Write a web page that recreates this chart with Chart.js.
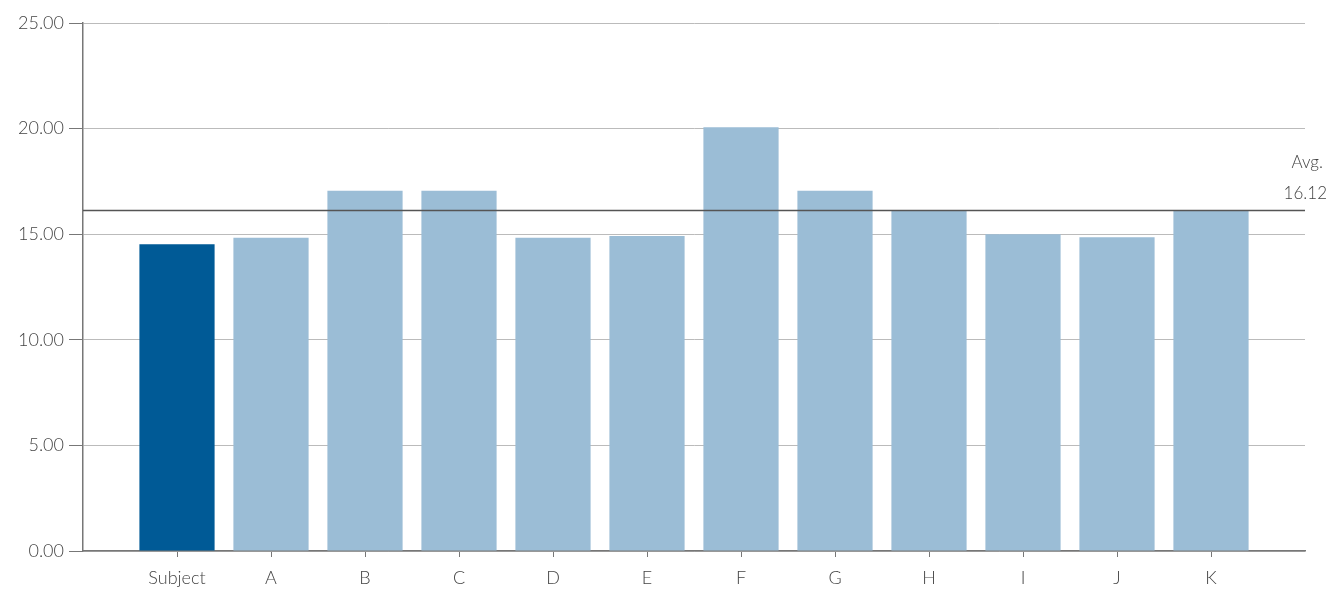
<!DOCTYPE html>
<html>
<head>
<meta charset="utf-8">
<script src="https://cdn.jsdelivr.net/npm/chart.js@4"></script>
<style>
    html, body { margin: 0; padding: 0; background: #fff; }
    #wrap { width: 1343px; height: 596px; }
</style>
</head>
<body>
<div id="wrap"><canvas id="myChart"></canvas></div>

<script>
    // data
    var categories = ['Subject', 'A', 'B', 'C', 'D', 'E', 'F', 'G', 'H', 'I', 'J', 'K'];
    var values = [14.52, 14.83, 17.06, 17.06, 14.83, 14.91, 20.06, 17.06, 16.15, 15.0, 14.85, 16.1];
    var yTicks = [0, 5, 10, 15, 20, 25];
    var average = 16.12;

    var barColors = categories.map(function (c, i) { return i == 0 ? '#005a96' : '#9bbdd6'; });

    // avg line + label on top of the bars
    var avgLine = {
        id: 'avgLine',
        afterDatasetsDraw: function (chart) {
            var ctx = chart.ctx;
            var y = chart.scales.y.getPixelForValue(average);
            var area = chart.chartArea;
            ctx.save();
            ctx.strokeStyle = '#555';
            ctx.lineWidth = 1.5;
            ctx.beginPath();
            ctx.moveTo(area.left, y);
            ctx.lineTo(area.right, y);
            ctx.stroke();
            ctx.fillStyle = '#444';
            ctx.font = '300 17px Lato';
            ctx.textAlign = 'right';
            ctx.textBaseline = 'middle';
            ctx.fillText('Avg.', 1323, y - 48);
            ctx.fillText(average.toFixed(2), 1327, y - 17);
            ctx.restore();
        }
    };

    var chart = new Chart(document.getElementById('myChart').getContext('2d'), {
        type: 'bar',
        data: {
            datasets: [{
                data: values.map(function (v, i) { return { x: i, y: v }; }),
                backgroundColor: barColors,
                borderWidth: 0,
                barPercentage: 0.8,
                categoryPercentage: 1.0
            }]
        },
        options: {
            responsive: true,
            maintainAspectRatio: false,
            animation: false,
            layout: { padding: { top: 23, right: 38, left: 0, bottom: 0 } },
            plugins: { legend: { display: false }, tooltip: { enabled: false } },
            scales: {
                x: {
                    type: 'linear',
                    min: -1,
                    max: 12,
                    offset: false,
                    afterBuildTicks: function (scale) {
                        scale.ticks = categories.map(function (c, i) { return { value: i }; });
                    },
                    afterFit: function (scale) { scale.height = 45; },
                    border: { display: true, color: '#777', width: 1.5 },
                    grid: { offset: false, drawOnChartArea: false, drawTicks: true, tickLength: 6, tickColor: '#777' },
                    ticks: {
                        autoSkip: false,
                        maxRotation: 0,
                        padding: 10,
                        color: '#444',
                        font: { family: 'Lato', size: 18, weight: '300' },
                        callback: function (v) { return categories[v] || ''; }
                    }
                },
                y: {
                    min: 0,
                    max: 25,
                    afterBuildTicks: function (scale) {
                        scale.ticks = yTicks.map(function (v) { return { value: v }; });
                    },
                    afterFit: function (scale) { scale.width = 83; },
                    border: { display: true, color: '#777', width: 1.5 },
                    grid: { color: '#bbb', lineWidth: 1, tickLength: 14, tickColor: '#777' },
                    ticks: {
                        padding: 5,
                        color: '#444',
                        font: { family: 'Lato', size: 18, weight: '300' },
                        callback: function (v) { return v.toFixed(2); }
                    }
                }
            }
        },
        plugins: [avgLine]
    });
</script>
</body>
</html>
